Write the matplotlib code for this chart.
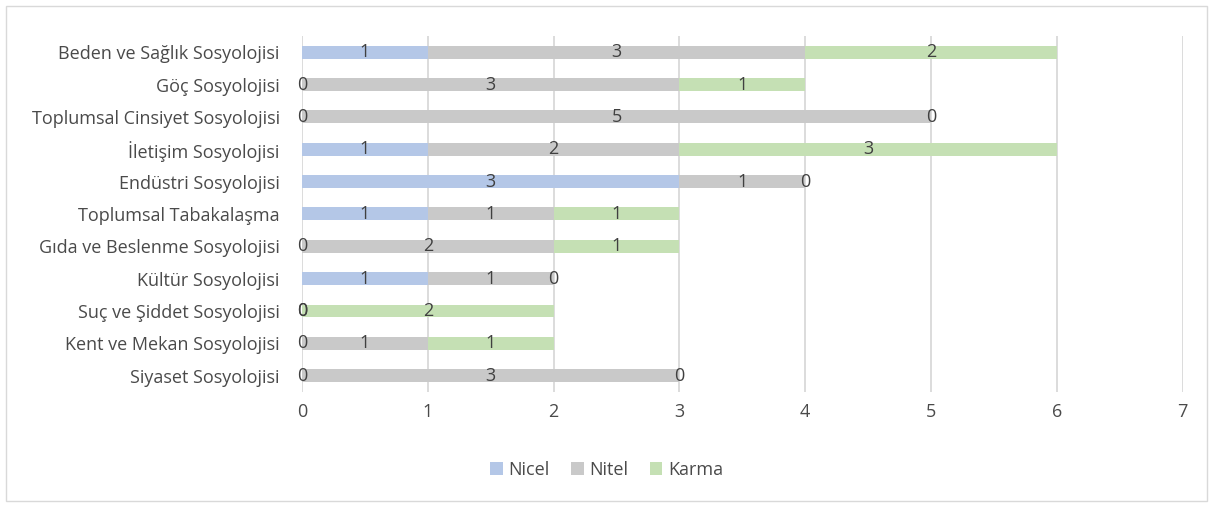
import numpy as np
import matplotlib.pyplot as plt
from matplotlib.patches import Rectangle

categories = ['Beden ve Sağlık Sosyolojisi', 'Göç Sosyolojisi',
              'Toplumsal Cinsiyet Sosyolojisi', 'İletişim Sosyolojisi',
              'Endüstri Sosyolojisi', 'Toplumsal Tabakalaşma',
              'Gıda ve Beslenme Sosyolojisi', 'Kültür Sosyolojisi',
              'Suç ve Şiddet Sosyolojisi', 'Kent ve Mekan Sosyolojisi',
              'Siyaset Sosyolojisi']
nicel = [1, 0, 0, 1, 3, 1, 0, 1, 0, 0, 0]
nitel = [3, 3, 5, 2, 1, 1, 2, 1, 0, 1, 3]
karma = [2, 1, 0, 3, 0, 1, 1, 0, 2, 1, 0]
series = [('Nicel', nicel, '#B4C7E7'), ('Nitel', nitel, '#C9C9C9'),
          ('Karma', karma, '#C5E0B4')]

plt.rcParams['font.family'] = ['Open Sans', 'DejaVu Sans']
txt = '#404040'

fig = plt.figure(figsize=(12.13, 5.07), dpi=100)
ax = fig.add_axes([0.249, 0.227, 0.726, 0.702])
fig.patches.append(Rectangle((0.005, 0.012), 0.99, 0.976, transform=fig.transFigure,
                             fill=False, edgecolor='#D9D9D9', linewidth=1))

y = np.arange(len(categories))[::-1]
left = np.zeros(len(categories))
for name, vals, col in series:
    vals = np.array(vals)
    ax.barh(y, vals, left=left, height=0.4, color=col, label=name, zorder=3)
    for yi, l, v in zip(y, left, vals):
        ax.text(l + v / 2, yi, str(v), ha='center', va='center',
                fontsize=13, color=txt, zorder=4)
    left = left + vals

ax.set_xlim(0, 7)
ax.set_ylim(-0.5, len(categories) - 0.5)
ax.set_xticks(range(8))
ax.set_yticks(y)
ax.set_yticklabels(categories)
ax.tick_params(length=0, labelsize=13, labelcolor='#4a4a4a', pad=8)
ax.tick_params(axis='y', pad=16)
ax.grid(axis='x', color='#D9D9D9', linewidth=1.3, zorder=0)
for s in ax.spines.values():
    s.set_visible(False)

fig.legend(loc='center', bbox_to_anchor=(0.5, 0.073), ncol=3, frameon=False,
           fontsize=13, handlelength=0.7, handleheight=0.7, handletextpad=0.3,
           columnspacing=1.2, labelcolor='#4a4a4a')

fig.savefig('out.png', dpi=100)
